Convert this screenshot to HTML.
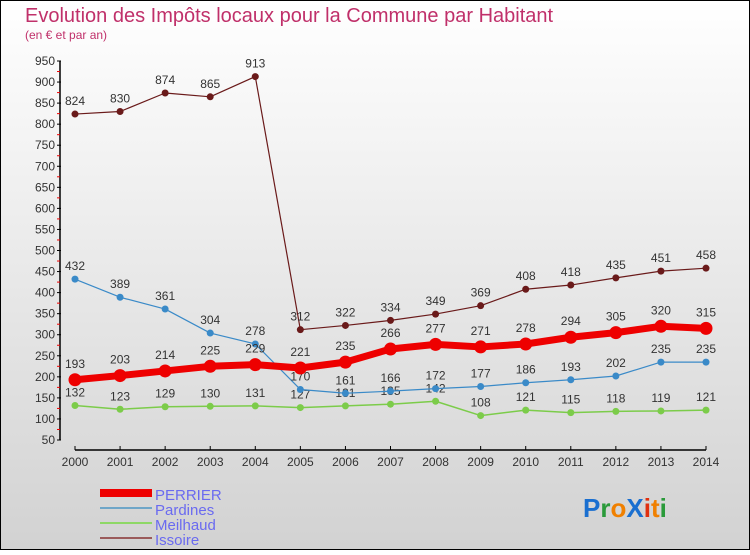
<!DOCTYPE html>
<html><head><meta charset="utf-8"><style>
body{margin:0;width:750px;height:550px;overflow:hidden;font-family:"Liberation Sans",sans-serif}
</style></head><body>
<svg width="750" height="550" xmlns="http://www.w3.org/2000/svg">
<defs><linearGradient id="bg" x1="0" y1="0" x2="0" y2="1"><stop offset="0" stop-color="#ffffff"/><stop offset="1" stop-color="#d2d2d2"/></linearGradient></defs>
<rect x="0.5" y="0.5" width="749" height="549" fill="url(#bg)" stroke="#000"/>
<text x="25" y="22" font-size="20" fill="#c0306a">Evolution des Impôts locaux pour la Commune par Habitant</text>
<text x="25" y="39" font-size="12" fill="#c0306a">(en € et par an)</text>
<g id="axes"></g>
<g id="series"></g>
<g>
<rect x="100" y="489" width="52" height="8" fill="#e00"/>
<text x="155" y="500" font-size="15" fill="#6a6af0">PERRIER</text>
<line x1="100" y1="508" x2="152" y2="508" stroke="#6fa6c8" stroke-width="2"/>
<text x="155" y="515" font-size="15" fill="#6a6af0">Pardines</text>
<line x1="100" y1="523" x2="152" y2="523" stroke="#8ed866" stroke-width="2"/>
<text x="155" y="530" font-size="15" fill="#6a6af0">Meilhaud</text>
<line x1="100" y1="538" x2="152" y2="538" stroke="#9a5a5a" stroke-width="2"/>
<text x="155" y="545" font-size="15" fill="#6a6af0">Issoire</text>
</g>
<g font-size="26" font-weight="bold">
<text x="583" y="517"><tspan fill="#1a6fd0">P</tspan><tspan fill="#2a9a3a">r</tspan><tspan fill="#f08000">o</tspan><tspan fill="#1a6fd0">X</tspan><tspan fill="#e03010">i</tspan><tspan fill="#f08000">t</tspan><tspan fill="#2a9a3a">i</tspan></text>
</g>
</svg>
<script>
const years=[2000,2001,2002,2003,2004,2005,2006,2007,2008,2009,2010,2011,2012,2013,2014];
const yTicks=[50,100,150,200,250,300,350,400,450,500,550,600,650,700,750,800,850,900,950];
const perrier=[193,203,214,225,229,221,235,266,277,271,278,294,305,320,315];
const pardines=[432,389,361,304,278,170,161,166,172,177,186,193,202,235,235];
const meilhaud=[132,123,129,130,131,127,131,135,142,108,121,115,118,119,121];
const issoire=[824,830,874,865,913,312,322,334,349,369,408,418,435,451,458];
const NS="http://www.w3.org/2000/svg";
const xS=i=>75+i*(631/(years.length-1));
const yS=v=>440-(v-50)*(379/900);
function mk(t,a,p){const e=document.createElementNS(NS,t);for(const k in a)e.setAttribute(k,a[k]);p.appendChild(e);return e;}
const ax=document.getElementById('axes');
const yl=mk('line',{x1:60,y1:yS(950),x2:60,y2:yS(50),stroke:'#000','stroke-width':1.5},ax);


yTicks.forEach(v=>{
 mk('line',{x1:57,y1:yS(v),x2:61,y2:yS(v),stroke:'#000'},ax);
 mk('line',{x1:57,y1:yS(v+25),x2:60,y2:yS(v+25),stroke:'#e00'},ax).setAttribute('opacity',v<950?1:0);
 const t=mk('text',{x:55,y:yS(v)+4,'text-anchor':'end','font-size':12,fill:'#333'},ax);t.textContent=v;
 
 
});
const xl=mk('line',{x1:75,y1:450,x2:706,y2:450,stroke:'#000','stroke-width':1.5},ax);


years.forEach((y,i)=>{
 mk('line',{x1:xS(i),y1:446,x2:xS(i),y2:450,stroke:'#000'},ax);
 const t=mk('text',{x:xS(i),y:466,'text-anchor':'middle','font-size':12,fill:'#333'},ax);t.textContent=y;
 
 
});
const sg=document.getElementById('series');
function series(d,name,color,w,r,labelOff){
 const g=mk('g',{},sg);
 
 
 const pl=mk('polyline',{points:d.map((v,i)=>xS(i)+','+yS(v)).join(' '),fill:'none',stroke:color,'stroke-width':w,'stroke-linejoin':'round'},g);
 
 
 d.forEach((v,i)=>{
  const c=mk('circle',{cx:xS(i),cy:yS(v),r:r,fill:color},g);
  
  
  const t=mk('text',{x:xS(i),y:yS(v)-labelOff,'text-anchor':'middle','font-size':12,fill:'#333'},g);t.textContent=v;
  
  
 });
}
series(meilhaud,'meilhaud','#7ccc4a',1.5,3.5,9);
series(pardines,'pardines','#3a8ac8',1.2,3.5,9);
series(issoire,'issoire','#6a1a1a',1.2,3.5,9);
series(perrier,'perrier','#ee0000',7,6.5,12);
</script>
</body></html>
